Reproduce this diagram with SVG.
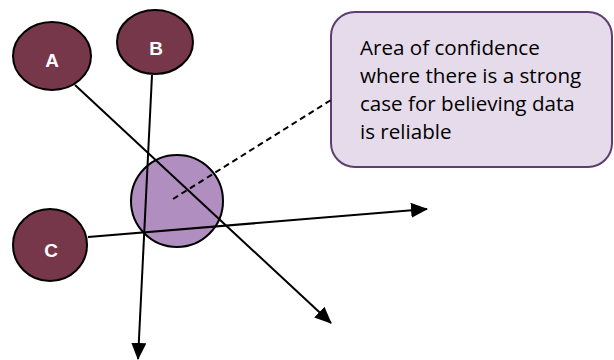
<svg xmlns="http://www.w3.org/2000/svg" width="614" height="360" viewBox="0 0 614 360">
<style>
.src{fill:#77374a;stroke:#000;stroke-width:2}
.lbl{font-family:"Liberation Sans",Arial,sans-serif;font-weight:bold;font-size:19px;fill:#fff;text-anchor:middle}
.conn{stroke:#000;stroke-width:2;fill:none}
.note{font-family:"Open Sans","Liberation Sans",sans-serif;font-size:20.6px;fill:#000}
</style>
<defs>
<marker id="ah" markerUnits="userSpaceOnUse" markerWidth="17" markerHeight="15" refX="16" refY="7.5" orient="auto">
<path d="M0,0 L17,7.5 L0,15 Z" fill="#000"/>
</marker>
</defs>
<g id="callout">
<rect x="331" y="12" width="281" height="155" rx="24" ry="24" fill="#e6dbeb" stroke="#5f3d6e" stroke-width="2"/>
<text class="note" x="360" y="55">Area of confidence</text>
<text class="note" x="360" y="83">where there is a strong</text>
<text class="note" x="360" y="111">case for believing data</text>
<text class="note" x="360" y="139">is reliable</text>
</g>
<g id="area">
<circle cx="177" cy="201" r="46" fill="#b08fc0" stroke="#000" stroke-width="2"/>
</g>
<g id="A">
<ellipse class="src" cx="52" cy="56" rx="39" ry="34"/>
<text class="lbl" x="52" y="67">A</text>
</g>
<g id="B">
<ellipse class="src" cx="155" cy="42" rx="38" ry="32"/>
<text class="lbl" x="156" y="55">B</text>
</g>
<g id="C">
<ellipse class="src" cx="50" cy="245" rx="37" ry="36"/>
<text class="lbl" x="51" y="257">C</text>
</g>
<g id="connectors">
<line class="conn" x1="75" y1="85" x2="331" y2="323" marker-end="url(#ah)"/>
<line class="conn" x1="152" y1="75" x2="138" y2="359" marker-end="url(#ah)"/>
<line class="conn" x1="88" y1="237" x2="427" y2="209" marker-end="url(#ah)"/>
<line class="conn" x1="173" y1="199" x2="331" y2="100" stroke-dasharray="6,4"/>
</g>
</svg>
